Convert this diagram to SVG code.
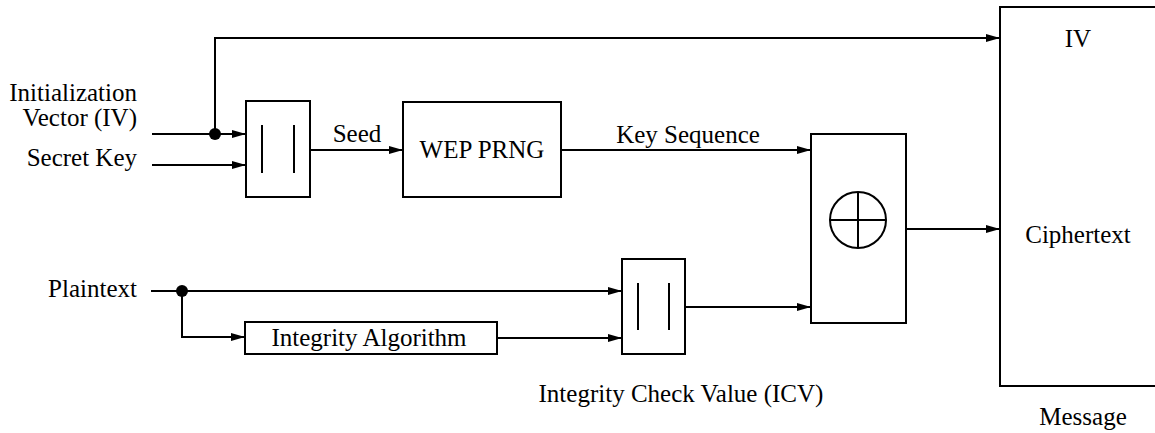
<svg xmlns="http://www.w3.org/2000/svg" width="1155" height="433" viewBox="0 0 1155 433">
<defs>
<marker id="arr" markerWidth="14" markerHeight="8" refX="14" refY="4" orient="auto" markerUnits="userSpaceOnUse">
<path d="M0,0 L14,4 L0,8 Z" fill="#000"/>
</marker>
<style>
.t{font-family:'Liberation Serif','Times New Roman',serif;font-size:25px;fill:#000}
.b{fill:#fff;stroke:#000;stroke-width:2}
.c{fill:none;stroke:#000;stroke-width:2}
.a{fill:none;stroke:#000;stroke-width:2;marker-end:url(#arr)}
</style>
</defs>
<rect width="1155" height="433" fill="#fff"/>
<g id="labels" class="t" font-family="Liberation Serif, serif">
<text x="137" y="101" text-anchor="end">Initialization</text>
<text x="137" y="126" text-anchor="end">Vector (IV)</text>
<text x="137" y="166" text-anchor="end">Secret Key</text>
<text x="137" y="297" text-anchor="end">Plaintext</text>
<text x="357" y="142" text-anchor="middle">Seed</text>
<text x="688" y="143" text-anchor="middle">Key Sequence</text>
<text x="681" y="402" text-anchor="middle">Integrity Check Value (ICV)</text>
</g>
<g id="connectors">
<path class="a" d="M152,134 H246"/>
<path class="a" d="M152,165 H246"/>
<path class="a" d="M215,134 V38 H1000"/>
<circle cx="215" cy="134" r="6" fill="#000"/>
<path class="a" d="M310,150 H403"/>
<path class="a" d="M561,150 H811"/>
<path class="a" d="M151,291 H622"/>
<circle cx="182" cy="291" r="6" fill="#000"/>
<path class="a" d="M182,291 V337 H245"/>
<path class="a" d="M497,338 H622"/>
<path class="a" d="M685,307 H811"/>
<path class="a" d="M906,229 H1000"/>
</g>
<g id="concat1">
<rect class="b" x="246" y="101" width="64" height="96"/>
<path class="c" d="M262,125 V173 M294,125 V173"/>
</g>
<g id="prng" class="t" font-family="Liberation Serif, serif">
<rect class="b" x="403" y="102" width="158" height="95"/>
<text x="482" y="158" text-anchor="middle">WEP PRNG</text>
</g>
<g id="integrity" class="t" font-family="Liberation Serif, serif">
<rect class="b" x="245" y="322" width="252" height="32"/>
<text x="369" y="346" text-anchor="middle">Integrity Algorithm</text>
</g>
<g id="concat2">
<rect class="b" x="622" y="259" width="63" height="95"/>
<path class="c" d="M638,283 V330 M669,283 V330"/>
</g>
<g id="xor">
<rect class="b" x="811" y="134" width="95" height="189"/>
<circle class="c" cx="858" cy="220" r="28"/>
<path class="c" d="M830,220 H886 M858,192 V248"/>
</g>
<g id="message" class="t" font-family="Liberation Serif, serif">
<rect class="b" x="1000" y="7" width="170" height="379"/>
<text x="1078" y="47" text-anchor="middle">IV</text>
<text x="1078" y="243" text-anchor="middle">Ciphertext</text>
<text x="1083" y="425" text-anchor="middle">Message</text>
</g>
</svg>
